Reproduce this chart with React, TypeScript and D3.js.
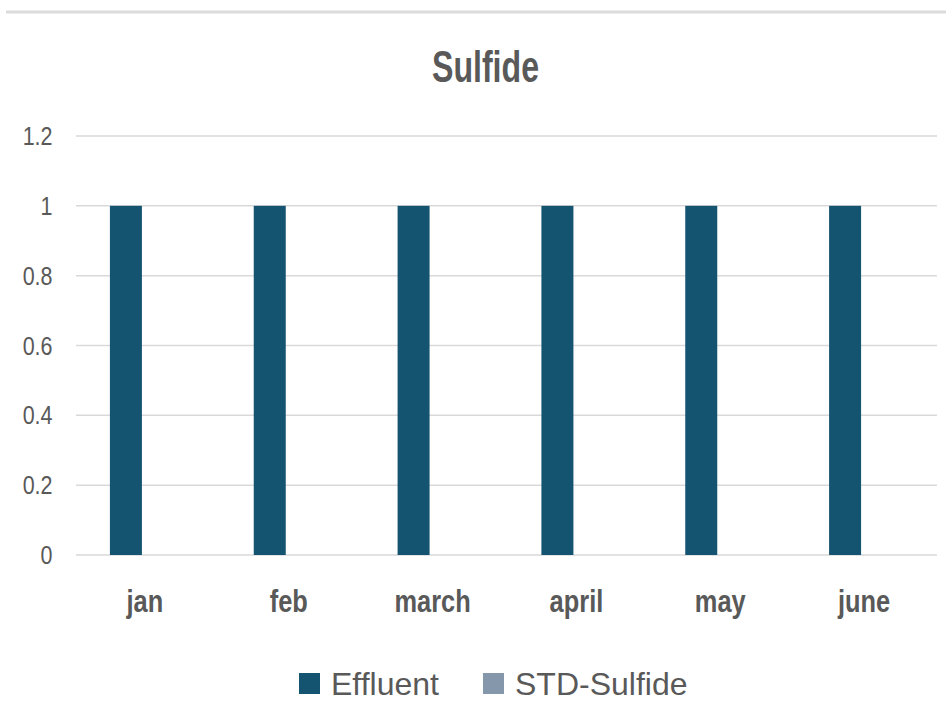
import * as d3 from "d3";

// data
const months = ["jan", "feb", "march", "april", "may", "june"];
const seriesNames = ["Effluent", "STD-Sulfide"];
const effluent = [1, 1, 1, 1, 1, 1];
const stdSulfide = [0, 0, 0, 0, 0, 0];
const yTicks = [0, 0.2, 0.4, 0.6, 0.8, 1, 1.2];
const colors = ["#155470", "#8497ab"];

const W = 946;
const H = 702;
const FONT = "'Liberation Sans', Arial, sans-serif";
const TEXT = "#595959";
const GRID = "#d9d9d9";

export default function App() {
  const x0 = d3
    .scaleBand<string>()
    .domain(months)
    .range([70, 933])
    .paddingInner(0.555)
    .paddingOuter(0.2775);
  const x1 = d3
    .scaleBand<string>()
    .domain(seriesNames)
    .range([0, x0.bandwidth()]);
  const y = d3.scaleLinear().domain([0, 1.2]).range([555, 136]);

  const values = [effluent, stdSulfide];

  return (
    <svg
      width={W}
      height={H}
      style={{ position: "fixed", left: 0, top: 0, background: "#fff" }}
    >
      {/* top border */}
      <line x1={6} x2={W} y1={12} y2={12} stroke="#dcdcdc" strokeWidth={3} />

      {/* title, condensed */}
      <g transform={`translate(485.5,82) scale(0.73,1)`}>
        <text
          textAnchor="middle"
          fontFamily={FONT}
          fontWeight={700}
          fontSize={44}
          fill={TEXT}
        >
          Sulfide
        </text>
      </g>

      {/* gridlines + y labels */}
      {yTicks.map((t) => (
        <g key={t}>
          <line
            x1={76}
            x2={937}
            y1={y(t)}
            y2={y(t)}
            stroke={GRID}
            strokeWidth={1.5}
          />
          <g transform={`translate(52.5,${y(t) + 9}) scale(0.86,1)`}>
            <text
              textAnchor="end"
              fontFamily={FONT}
              fontSize={25}
              fill={TEXT}
            >
              {d3.format("~g")(t)}
            </text>
          </g>
        </g>
      ))}

      {/* bars */}
      {months.map((m, i) => (
        <g key={m} transform={`translate(${x0(m)},0)`}>
          {seriesNames.map((s, k) => {
            const v = values[k][i];
            return (
              <rect
                key={s}
                x={x1(s)}
                y={y(v)}
                width={x1.bandwidth()}
                height={y(0) - y(v)}
                fill={colors[k]}
              />
            );
          })}
        </g>
      ))}

      {/* x labels */}
      {months.map((m) => (
        <g
          key={m}
          transform={`translate(${(x0(m) ?? 0) + x0.bandwidth() / 2 + 3},612) scale(0.82,1)`}
        >
          <text
            textAnchor="middle"
            fontFamily={FONT}
            fontWeight={700}
            fontSize={31}
            fill={TEXT}
          >
            {m}
          </text>
        </g>
      ))}

      {/* legend */}
      {seriesNames.map((s, k) => {
        const lx = [299, 483][k];
        return (
          <g key={s}>
            <rect x={lx} y={673} width={21} height={21} fill={colors[k]} />
            <text
              x={lx + 32}
              y={695}
              fontFamily={FONT}
              fontSize={32}
              fill={TEXT}
            >
              {s}
            </text>
          </g>
        );
      })}
    </svg>
  );
}
